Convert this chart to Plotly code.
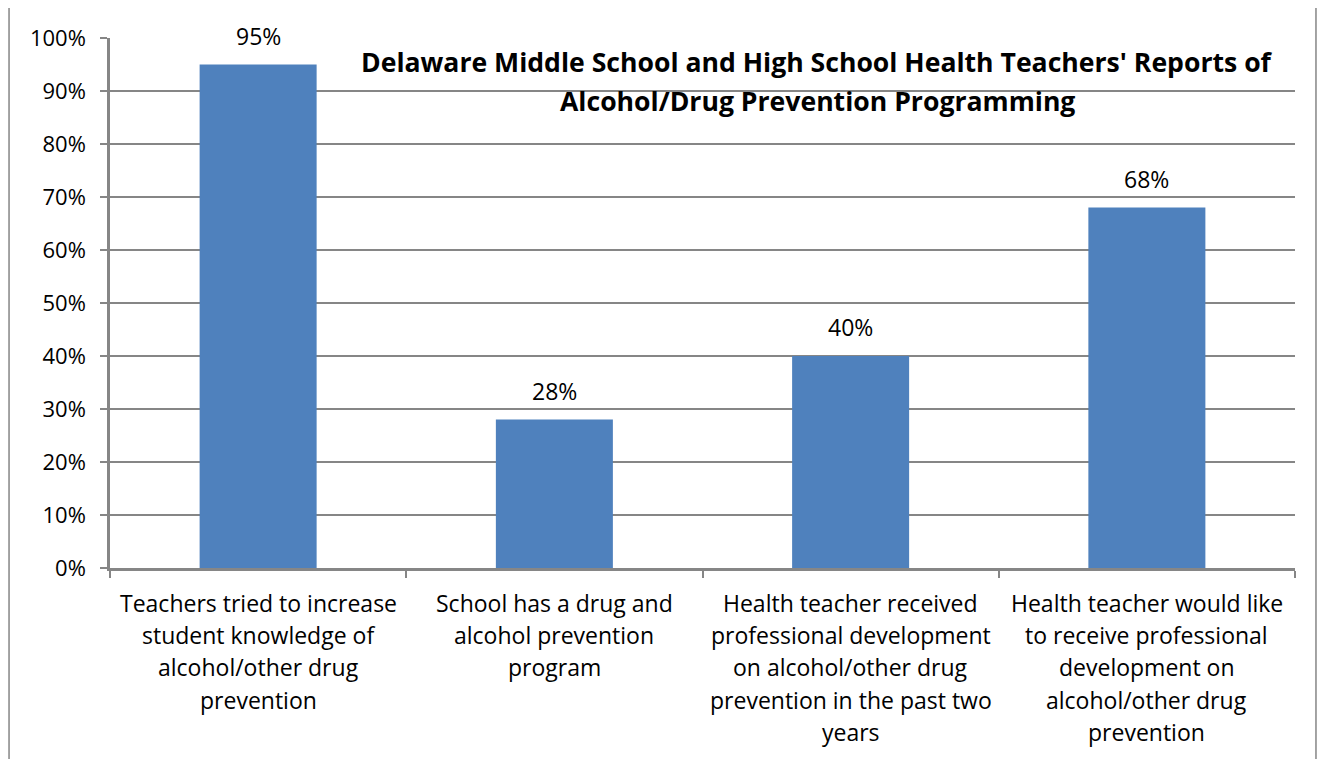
import plotly.graph_objects as go

categories = [
    "Teachers tried to increase student knowledge of alcohol/other drug prevention",
    "School has a drug and alcohol prevention program",
    "Health teacher received professional development on alcohol/other drug prevention in the past two years",
    "Health teacher would like to receive professional development on alcohol/other drug prevention",
]
category_lines = [
    ["Teachers tried to increase", "student knowledge of", "alcohol/other drug", "prevention"],
    ["School has a drug and", "alcohol prevention", "program"],
    ["Health teacher received", "professional development", "on alcohol/other drug", "prevention in the past two", "years"],
    ["Health teacher would like", "to receive professional", "development on", "alcohol/other drug", "prevention"],
]
values = [0.95, 0.28, 0.40, 0.68]
value_labels = ["95%", "28%", "40%", "68%"]
title_lines = ["Delaware Middle School and High School Health Teachers' Reports of",
               "Alcohol/Drug Prevention Programming"]

FONT = "Open Sans"
GRAY = "#868686"

fig = go.Figure()
fig.add_trace(go.Bar(x=categories, y=values, marker=dict(color="#4F81BD", line=dict(width=0)),
                     width=0.395, showlegend=False, hoverinfo="skip"))

annotations = []
for c, v, lab in zip(categories, values, value_labels):
    annotations.append(dict(x=c, y=v, xref="x", yref="y", text=lab, showarrow=False,
                            yanchor="bottom", yshift=11, font=dict(family=FONT, size=23, color="black")))
for c, lines in zip(categories, category_lines):
    for i, ln in enumerate(lines):
        annotations.append(dict(x=c, y=0, xref="x", yref="y", text=ln, showarrow=False,
                                yanchor="middle", yshift=-(35 + 32.2 * i),
                                font=dict(family=FONT, size=23, color="black")))
for i, ln in enumerate(title_lines):
    annotations.append(dict(x=0.597, y=1, xref="paper", yref="paper", text="<b>" + ln + "</b>",
                            showarrow=False, yanchor="middle", yshift=-(24 + 39 * i),
                            font=dict(family=FONT, size=26.6, color="black")))

fig.update_layout(
    width=1325, height=759,
    margin=dict(l=102, r=38, t=30, b=199),
    plot_bgcolor="white", paper_bgcolor="white",
    bargap=0.605,
    annotations=annotations,
    font=dict(family=FONT, size=19, color="black"),
    shapes=[dict(type="rect", xref="paper", yref="paper", x0=-0.0852, x1=1.0177, y0=-0.40, y1=1.0585,
                 line=dict(color=GRAY, width=1.5), fillcolor="rgba(0,0,0,0)", layer="below")],
)
fig.update_xaxes(showticklabels=False, ticks="outside", tickson="boundaries", ticklen=7,
                 tickcolor=GRAY, tickwidth=2, showline=True, linecolor=GRAY, linewidth=2.5,
                 showgrid=False)
fig.update_yaxes(range=[0, 1.0], dtick=0.1, tickformat=".0%", ticks="outside", ticklen=7,
                 tickcolor=GRAY, tickwidth=2, showline=True, linecolor=GRAY, linewidth=2.5,
                 showgrid=True, gridcolor=GRAY, gridwidth=1.5, zeroline=False,
                 ticklabelstandoff=10, tickfont=dict(family=FONT, size=22, color="black"))

fig.write_html("out.html")
